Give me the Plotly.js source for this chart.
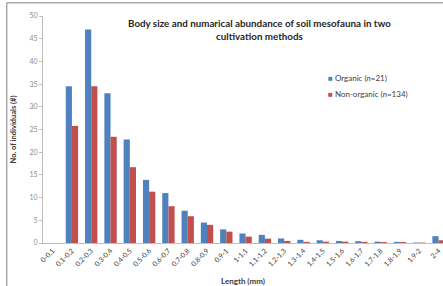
<!DOCTYPE html>
<html><head><meta charset="utf-8">
<script src="https://cdn.plot.ly/plotly-3.0.1.min.js"></script>
<style>html,body{margin:0;padding:0;background:#fff}#c{width:443px;height:286px}</style>
</head><body><div id="c"></div>
<script>
const categories = ["0-0,1","0,1-0,2","0,2-0,3","0,3-0,4","0,4-0,5","0,5-0,6","0,6-0,7","0,7-0,8","0,8-0,9","0,9-1","1-1,1","1,1-1,2","1,2-1,3","1,3-1,4","1,4-1,5","1,5-1,6","1,6-1,7","1,7-1,8","1,8-1,9","1,9-2","2-4"];
const organic    = [0, 34.5, 47, 33, 22.8, 13.9, 11, 7.1, 4.5, 3.0, 2.1, 1.8, 1.0, 0.7, 0.6, 0.45, 0.4, 0.3, 0.25, 0.1, 1.5];
const nonOrganic = [0, 25.8, 34.5, 23.4, 16.7, 11.3, 8.1, 5.9, 4.0, 2.5, 1.4, 0.95, 0.45, 0.25, 0.3, 0.3, 0.25, 0.2, 0.2, 0.1, 0.6];
const seriesNames = ["Organic (<i>n</i>=21)", "Non-organic (<i>n</i>=134)"];
const seriesColors = ["#4F81BD", "#C0504D"];
const yTicks = [0,5,10,15,20,25,30,35,40,45,50];

const font = "Lato, 'Open Sans', sans-serif";
const data = [
  {type:"bar", x:categories, y:organic, name:seriesNames[0], marker:{color:seriesColors[0]}},
  {type:"bar", x:categories, y:nonOrganic, name:seriesNames[1], marker:{color:seriesColors[1]}}
];
const legendAnn = seriesNames.map((n, i) => ({
  xref:"paper", yref:"paper", x:0.708, y:(243-78-i*16)/227, xanchor:"left", yanchor:"middle", showarrow:false,
  text:'<span style="color:' + seriesColors[i] + '">■</span> ' + n,
  font:{family:font, size:8, color:"#404040"}
}));
const layout = {
  width:443, height:286,
  margin:{l:43, r:0, t:16, b:43},
  paper_bgcolor:"#fff", plot_bgcolor:"#fff",
  font:{family:font, size:7, color:"#595959"},
  barmode:"group", bargap:0.36, bargroupgap:0,
  showlegend:false,
  xaxis:{type:"category", range:[-0.5, 20.23], tickangle:-45, showline:true, linecolor:"#bfbfbf",
         ticks:"", tickfont:{family:font, size:7, color:"#404040"}, automargin:false,
         title:{text:"<b>Length (mm)</b>", font:{family:font, size:8, color:"#404040"}, standoff:15}},
  yaxis:{range:[0,50], tickvals:yTicks, showgrid:false, zeroline:false, showline:true, linecolor:"#bfbfbf",
         ticks:"outside", ticklen:3, tickcolor:"#bfbfbf", tickfont:{family:font, size:7, color:"#8c8c8c"},
         automargin:false,
         title:{text:"<b>No. of individuals (#)</b>", font:{family:font, size:7.5, color:"#404040"}, standoff:11}},
  annotations:[
    {xref:"paper", yref:"paper", x:0.54, y:1.005, xanchor:"center", yanchor:"top", showarrow:false, align:"center",
     text:"<b>Body size and numarical abundance of soil mesofauna in two<br>cultivation methods</b>",
     font:{family:font, size:9.8, color:"#262626"}}
  ].concat(legendAnn),
  shapes:[
    {type:"line", xref:"paper", yref:"paper", x0:-0.0905, x1:1.01, y0:1.058, y1:1.058, line:{color:"#7f7f7f", width:1}},
    {type:"line", xref:"paper", yref:"paper", x0:-0.0905, x1:-0.0905, y0:1.058, y1:-0.2, line:{color:"#7f7f7f", width:1}}
  ]
};
Plotly.newPlot("c", data, layout, {displayModeBar:false, staticPlot:true});
</script></body></html>
